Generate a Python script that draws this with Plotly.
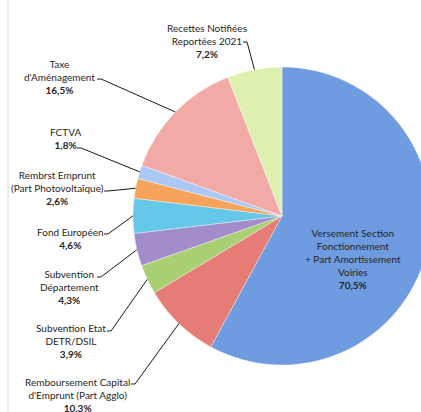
import numpy as np
import plotly.graph_objects as go

labels = ["Versement Section<br>Fonctionnement<br>+ Part Amortissement<br>Voiries",
          "Remboursement Capital<br>d'Emprunt (Part Agglo)",
          "Subvention Etat<br>DETR/DSIL",
          "Subvention<br>Département",
          "Fond Européen",
          "Rembrst Emprunt<br>(Part Photovoltaïque)",
          "FCTVA",
          "Taxe<br>d'Aménagement",
          "Recettes Notifiées<br>Reportées 2021"]
values = [70.5, 10.3, 3.9, 4.3, 4.6, 2.6, 1.8, 16.5, 7.2]
pct_text = ["70,5%", "10,3%", "3,9%", "4,3%", "4,6%", "2,6%", "1,8%", "16,5%", "7,2%"]
colors = ["#6f9ce0", "#e57d76", "#a9d072", "#a28dca", "#66c8e8", "#f7a35c",
          "#abc9f4", "#f1aaa5", "#ddf0b0"]

W, H = 440, 412
cx, cy, R = 282, 216, 149

# label placement (pixel centre of text block) and leader-line start
label_pos = [(353, 259), (77, 395), (71, 341), (69, 287), (70, 238),
             (57, 188), (65, 139), (60, 77), (207, 41)]
leader_start = [None, (131, 384), (107, 331), (97, 277), (104, 234),
                (104, 191), (77, 148), (97, 79), (243, 42)]

def px(x):
    return x / W

def py(y):
    return 1 - y / H

fig = go.Figure(go.Pie(
    labels=[l.replace("<br>", " ") for l in labels], values=values, sort=False,
    direction="clockwise", rotation=0, textinfo="none", hoverinfo="label+value",
    marker=dict(colors=colors, line=dict(color="rgba(255,255,255,0.6)", width=0.6)),
    domain=dict(x=[px(cx - R), px(cx + R)], y=[py(cy + R), py(cy - R)]),
    showlegend=False))

annotations = []
shapes = []
vals = np.array(values)
cum = np.cumsum(vals) / vals.sum() * 360
starts = np.concatenate([[0], cum[:-1]])
for i, lab in enumerate(labels):
    lx, ly = label_pos[i]
    annotations.append(dict(
        text=lab + "<br><b>" + pct_text[i] + "</b>", x=px(lx), y=py(ly),
        xref="paper", yref="paper", xanchor="center", yanchor="middle",
        showarrow=False, align="center",
        font=dict(family="Lato", size=10, color="#262626")))
    if leader_start[i] is not None:
        mid = np.deg2rad((starts[i] + cum[i]) / 2)
        ex = cx + R * np.sin(mid)
        ey = cy - R * np.cos(mid)
        sx, sy = leader_start[i]
        path = "M %f,%f L %f,%f L %f,%f" % (px(sx), py(sy), px(sx + 4), py(sy),
                                             px(ex), py(ey))
        shapes.append(dict(type="path", path=path, xref="paper", yref="paper",
                           line=dict(color="#1a1a1a", width=1)))

shapes.append(dict(type="line", x0=px(8), x1=px(8), y0=0, y1=1, xref="paper",
                   yref="paper", line=dict(color="#d9d9d9", width=1)))

fig.update_layout(width=W, height=H, margin=dict(l=0, r=0, t=0, b=0),
                  paper_bgcolor="white", plot_bgcolor="white",
                  annotations=annotations, shapes=shapes)

fig.write_html("out.html", config={"displayModeBar": False}, post_script=(
    "document.body.style.margin='0';"
    "document.body.style.overflow='hidden';"
    "document.documentElement.style.overflow='hidden';"))
